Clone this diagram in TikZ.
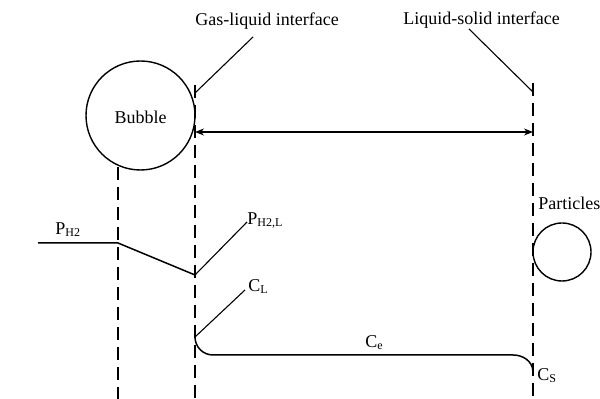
\documentclass[tikz,border=0pt]{standalone}
\usepackage{fontspec}
\setmainfont{Liberation Serif}
\usetikzlibrary{arrows.meta}

\begin{document}
\begin{tikzpicture}[x=0.5pt, y=-0.5pt, font=\fontsize{9}{10}\selectfont,
  iface/.style={line width=0.7pt, dash pattern=on 6.5pt off 3.5pt},
  leader/.style={line width=0.55pt},
  profile/.style={line width=0.75pt},
  lbl/.style={inner sep=0pt, anchor=base west}]

\useasboundingbox (0,0) rectangle (600,399);

% ---- bubble and particle ----
\node[circle, draw, line width=0.7pt, minimum size=54.5pt, inner sep=0pt] (bubble) at (140.5,115.5) {};
\node[inner sep=0pt, anchor=base] (bubbletxt) at (140.5,124) {Bubble};
\node[circle, draw, line width=0.7pt, minimum size=29pt, inner sep=0pt] (particle) at (562,252) {};
\node[lbl] (parttxt) at (538,210) {Particles};

% ---- interfaces (dashed) ----
\coordinate (film top) at (118,167);
\coordinate (film bot) at (118,399);
\coordinate (gl top) at (195,85);
\coordinate (gl bot) at (195,399);
\coordinate (ls top) at (533,83);
\coordinate (ls bot) at (533,399);
\draw[iface] (film top) -- (film bot);
\draw[iface] (gl top) -- (gl bot);
\draw[iface] (ls top) -- (ls bot);

% ---- interface labels ----
\node[lbl] (gltxt) at (195,26) {Gas-liquid interface};
\node[lbl] (lstxt) at (403,25) {Liquid-solid interface};
\coordinate (gl lead) at (253,37);
\coordinate (gl tip) at (195,93);
\coordinate (ls lead) at (469,29);
\coordinate (ls tip) at (533,92);
\draw[leader] (gl lead) -- (gl tip);
\draw[leader] (ls lead) -- (ls tip);

% ---- liquid film width ----
\coordinate (w left) at (195,132);
\coordinate (w right) at (533,132);
\draw[line width=0.6pt, {Stealth[length=4.5pt,width=3.5pt]}-{Stealth[length=4.5pt,width=3.5pt]}] (w left) -- (w right);

% ---- hydrogen pressure profile ----
\coordinate (p0) at (38,243);
\coordinate (p1) at (118,243);
\coordinate (p2) at (195,275);
\draw[profile] (p0) -- (p1) -- (p2);
\node[lbl] (phtxt) at (55,235) {P\textsubscript{H2}};
\node[lbl] (phltxt) at (247,225) {P\textsubscript{H2,L}};
\coordinate (phl lead) at (247,222);
\draw[leader] (p2) -- (phl lead);

% ---- concentration profile ----
\coordinate (c0) at (195,337);
\coordinate (c1) at (213,355);
\coordinate (c2) at (513,355);
\coordinate (c3) at (533,371);
\draw[profile] (c0) to[out=-90,in=180] (c1) -- (c2) to[out=0,in=95] (c3);
\coordinate (cl lead) at (245,290);
\draw[leader] (c0) -- (cl lead);
\node[lbl] (cltxt) at (248,292) {C\textsubscript{L}};
\node[lbl] (cetxt) at (365,348) {C\textsubscript{e}};
\node[lbl] (cstxt) at (537,381) {C\textsubscript{S}};

\end{tikzpicture}
\end{document}
